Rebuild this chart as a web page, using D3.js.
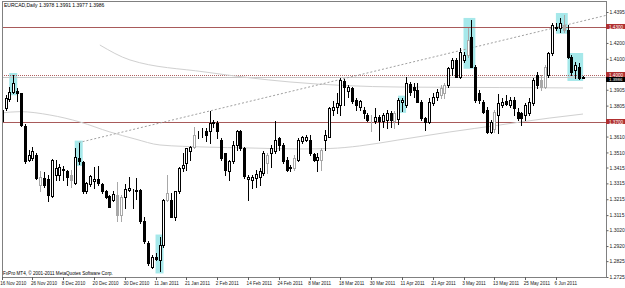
<!DOCTYPE html>
<html><head><meta charset="utf-8">
<script src="https://cdn.jsdelivr.net/npm/d3@7"></script>
<style>body{margin:0;background:#fff}svg{display:block}text{font-family:"Liberation Sans",Arial,sans-serif}</style>
</head><body><svg id="c" width="625" height="288"></svg>
<script>
// ---- data (EURCAD daily) ----
const firstDate = "2010-11-16";
const opens  = [1.3711,1.3789,1.3845,1.3893,1.3900,1.3883,1.3679,1.3463,1.3474,1.3495,1.3306,1.3348,1.3343,1.3236,1.3369,1.3369,1.3400,1.3390,1.3369,1.3316,1.3478,1.3450,1.3264,1.3312,1.3333,1.3345,1.3312,1.3264,1.3236,1.3211,1.3243,1.3117,1.3228,1.3274,1.3270,1.3272,1.3274,1.3075,1.2942,1.2791,1.2848,1.2833,1.2928,1.3211,1.3211,1.3106,1.3264,1.3411,1.3442,1.3516,1.3547,1.3621,1.3631,1.3642,1.3642,1.3702,1.3694,1.3589,1.3505,1.3390,1.3453,1.3558,1.3642,1.3537,1.3343,1.3337,1.3348,1.3358,1.3379,1.3442,1.3505,1.3516,1.3600,1.3558,1.3463,1.3411,1.3411,1.3463,1.3579,1.3589,1.3589,1.3501,1.3463,1.3463,1.3589,1.3610,1.3778,1.3799,1.3810,1.3963,1.3900,1.3915,1.3841,1.3799,1.3778,1.3747,1.3726,1.3705,1.3732,1.3705,1.3715,1.3757,1.3705,1.3720,1.3830,1.3809,1.3939,1.3924,1.3903,1.3830,1.3725,1.3704,1.3819,1.3861,1.3872,1.3882,1.3935,1.4040,1.4092,1.3988,1.4092,1.4124,1.4239,1.4050,1.3882,1.3830,1.3778,1.3641,1.3658,1.3746,1.3809,1.3834,1.3809,1.3840,1.3767,1.3757,1.3746,1.3757,1.3819,1.3998,1.3966,1.3924,1.3998,1.4134,1.4302,1.4292,1.4313,1.4281,1.4113,1.4030,1.4050,1.3978];
const highs  = [1.3799,1.3873,1.3925,1.3998,1.3915,1.3887,1.3690,1.3526,1.3547,1.3505,1.3390,1.3385,1.3369,1.3469,1.3463,1.3438,1.3425,1.3400,1.3400,1.3537,1.3572,1.3453,1.3326,1.3369,1.3421,1.3425,1.3316,1.3274,1.3243,1.3264,1.3326,1.3243,1.3312,1.3358,1.3278,1.3348,1.3278,1.3106,1.2949,1.2865,1.2875,1.2980,1.3215,1.3369,1.3253,1.3268,1.3421,1.3505,1.3537,1.3551,1.3673,1.3642,1.3663,1.3663,1.3768,1.3715,1.3705,1.3600,1.3505,1.3463,1.3579,1.3652,1.3652,1.3543,1.3369,1.3369,1.3400,1.3411,1.3516,1.3505,1.3558,1.3705,1.3610,1.3568,1.3484,1.3431,1.3495,1.3600,1.3614,1.3621,1.3621,1.3505,1.3505,1.3537,1.3652,1.3799,1.3831,1.3883,1.3978,1.3971,1.3936,1.3921,1.3852,1.3841,1.3799,1.3757,1.3747,1.3789,1.3747,1.3757,1.3778,1.3768,1.3768,1.3855,1.3855,1.3988,1.3956,1.3945,1.3945,1.3840,1.3736,1.3851,1.3882,1.3910,1.3935,1.3945,1.4050,1.4103,1.4103,1.4166,1.4145,1.4292,1.4345,1.4061,1.3903,1.3840,1.3799,1.3715,1.3778,1.3876,1.3851,1.3872,1.3861,1.3861,1.3788,1.3767,1.3819,1.3851,1.3977,1.4019,1.3998,1.4061,1.4145,1.4323,1.4323,1.4355,1.4376,1.4313,1.4124,1.4082,1.4072,1.3991];
const lows   = [1.3698,1.3778,1.3831,1.3883,1.3837,1.3679,1.3446,1.3453,1.3463,1.3343,1.3270,1.3295,1.3201,1.3232,1.3337,1.3337,1.3337,1.3306,1.3295,1.3312,1.3438,1.3253,1.3253,1.3299,1.3285,1.3306,1.3253,1.3222,1.3165,1.3201,1.3081,1.3081,1.3159,1.3264,1.3159,1.3215,1.3064,1.2938,1.2802,1.2781,1.2829,1.2760,1.2917,1.3201,1.3102,1.3085,1.3253,1.3390,1.3400,1.3463,1.3537,1.3600,1.3610,1.3579,1.3568,1.3673,1.3600,1.3463,1.3369,1.3337,1.3442,1.3526,1.3526,1.3348,1.3211,1.3285,1.3295,1.3306,1.3369,1.3379,1.3421,1.3505,1.3526,1.3442,1.3390,1.3390,1.3400,1.3453,1.3568,1.3579,1.3495,1.3453,1.3390,1.3400,1.3526,1.3606,1.3747,1.3757,1.3747,1.3810,1.3862,1.3820,1.3778,1.3778,1.3726,1.3705,1.3642,1.3694,1.3589,1.3673,1.3663,1.3673,1.3663,1.3690,1.3772,1.3799,1.3872,1.3861,1.3830,1.3715,1.3652,1.3694,1.3809,1.3840,1.3851,1.3851,1.3924,1.3998,1.3988,1.3981,1.4082,1.4113,1.4050,1.3830,1.3819,1.3757,1.3631,1.3631,1.3641,1.3631,1.3799,1.3809,1.3799,1.3746,1.3715,1.3683,1.3715,1.3746,1.3809,1.3914,1.3903,1.3914,1.3988,1.4124,1.4281,1.4271,1.4271,1.4103,1.3998,1.3977,1.3973,1.3977];
const closes = [1.3778,1.3852,1.3893,1.3946,1.3883,1.3684,1.3453,1.3495,1.3516,1.3348,1.3354,1.3306,1.3243,1.3463,1.3411,1.3417,1.3408,1.3358,1.3337,1.3480,1.3453,1.3264,1.3316,1.3364,1.3345,1.3316,1.3268,1.3232,1.3169,1.3249,1.3117,1.3228,1.3278,1.3285,1.3268,1.3270,1.3075,1.2949,1.2812,1.2854,1.2839,1.2928,1.3211,1.3253,1.3106,1.3264,1.3411,1.3431,1.3537,1.3543,1.3621,1.3623,1.3633,1.3621,1.3698,1.3694,1.3642,1.3474,1.3400,1.3453,1.3558,1.3642,1.3537,1.3362,1.3358,1.3358,1.3375,1.3390,1.3505,1.3495,1.3537,1.3589,1.3558,1.3453,1.3400,1.3421,1.3474,1.3589,1.3606,1.3610,1.3505,1.3463,1.3484,1.3526,1.3621,1.3789,1.3799,1.3820,1.3967,1.3925,1.3921,1.3831,1.3810,1.3831,1.3757,1.3715,1.3724,1.3736,1.3705,1.3747,1.3757,1.3715,1.3757,1.3840,1.3838,1.3945,1.3893,1.3903,1.3830,1.3725,1.3700,1.3830,1.3861,1.3893,1.3914,1.3935,1.4040,1.4092,1.3988,1.4145,1.4124,1.4219,1.4050,1.3840,1.3840,1.3767,1.3641,1.3704,1.3767,1.3819,1.3830,1.3813,1.3840,1.3788,1.3725,1.3725,1.3809,1.3830,1.3966,1.3935,1.3924,1.4050,1.4134,1.4313,1.4292,1.4323,1.4281,1.4113,1.4019,1.4061,1.3977,1.3986];
const greyBars = [10,18,30,31,43,50,69,76,83,96,102,114,115,121,128,140,141,146];
const patternBars = [[3,3],[20,20],[41,41],[104,104],[121,122],[145,146],[148,150]];
const solidLevels = [1.4300, 1.3700];
const dottedLevel = 1.4000;
const bidPrice = 1.3986;
const trendIdx = [20, 88];
const trendPrice = [1.3572, 1.3970];
const maUpperIdx = [25.5, 33.3, 52.8, 74.9, 103.5, 129.4, 151];
const maUpperVal = [1.4187, 1.4093, 1.4017, 1.3954, 1.3922, 1.3919, 1.3916];
const maLowerIdx = [0, 4.75, 12.5, 20.3, 28.1, 34.6, 41.1, 52.8, 64.5, 77.5, 85.3, 93, 102.9, 116.4, 129.4, 142.4, 151];
const maLowerVal = [1.3759,1.3767,1.3746,1.3702,1.3639,1.3595,1.3557,1.3544,1.3538,1.3532,1.3535,1.3551,1.3588,1.3639,1.3683,1.3727,1.3752];
const priceTicks = [1.4395,1.4200,1.4100,1.3905,1.3805,1.3610,1.3510,1.3415,1.3315,1.3215,1.3115,1.3020,1.2920,1.2825,1.2725];
const markedPrices = [1.4300, 1.4000, 1.3700];
const dateTicks = ["16 Nov 2010","26 Nov 2010","8 Dec 2010","20 Dec 2010","30 Dec 2010","11 Jan 2011","21 Jan 2011","2 Feb 2011","14 Feb 2011","24 Feb 2011","8 Mar 2011","18 Mar 2011","30 Mar 2011","11 Apr 2011","21 Apr 2011","3 May 2011","13 May 2011","25 May 2011","6 Jun 2011"];
const titleText = "EURCAD,Daily  1.3978 1.3991 1.3977 1.3986";
const copyText = "FxPro MT4, \u00a9 2001-2011 MetaQuotes Software Corp.";

// ---- build ----
const bars = opens.map((o,i)=>({i,o,h:highs[i],l:lows[i],c:closes[i],grey:greyBars.includes(i)}));
const dates=[]; {let d=new Date(firstDate+"T00:00:00Z"); while(dates.length<bars.length+20){const w=d.getUTCDay(); if(w>0&&w<6) dates.push(new Date(d)); d.setUTCDate(d.getUTCDate()+1);} }
const fmt = d3.utcFormat("%-d %b %Y");

const L=2, R=606, T=1, B=277;
const x = d3.scaleLinear().domain([0,157]).range([1.7, 606.1]);
const y = d3.scaleLinear().domain([1.2725,1.4395]).range([277,12]);
const svg = d3.select("#c");

const plot = svg.append("g");
svg.append("defs").append("clipPath").attr("id","clip").append("rect").attr("x",L).attr("y",T).attr("width",R-L).attr("height",B-T);
plot.attr("clip-path","url(#clip)");

// pattern highlight boxes
plot.selectAll("rect.pat").data(patternBars).join("rect")
  .attr("x",d=>x(d[0])-4).attr("width",d=>x(d[1])-x(d[0])+8)
  .attr("y",d=>y(d3.max(bars.slice(d[0],d[1]+1),b=>b.h))-2)
  .attr("height",d=>y(d3.min(bars.slice(d[0],d[1]+1),b=>b.l))-y(d3.max(bars.slice(d[0],d[1]+1),b=>b.h))+4)
  .attr("fill","#a6e8ea");

// level lines
plot.selectAll("line.lvl").data(solidLevels).join("line")
  .attr("x1",L).attr("x2",R).attr("y1",d=>Math.round(y(d))+0.5).attr("y2",d=>Math.round(y(d))+0.5)
  .attr("stroke","#a85a5a").attr("stroke-width",1);
plot.append("line").attr("x1",L).attr("x2",R).attr("y1",Math.round(y(dottedLevel))+0.5).attr("y2",Math.round(y(dottedLevel))+0.5)
  .attr("stroke","#b06060").attr("stroke-dasharray","1,1");
plot.append("line").attr("x1",L).attr("x2",R).attr("y1",Math.round(y(bidPrice))+0.5).attr("y2",Math.round(y(bidPrice))+0.5)
  .attr("stroke","#c4c4c4");

// moving averages
const mline = d3.line().x(d=>x(d[0])).y(d=>y(d[1])).curve(d3.curveMonotoneX);
plot.append("path").attr("d",mline(maUpperIdx.map((v,k)=>[v,maUpperVal[k]]))).attr("fill","none").attr("stroke","#d0d0d0");
plot.append("path").attr("d",mline(maLowerIdx.map((v,k)=>[v,maLowerVal[k]]))).attr("fill","none").attr("stroke","#d0d0d0");

// trend line (extended)
const slope=(trendPrice[1]-trendPrice[0])/(trendIdx[1]-trendIdx[0]);
plot.append("line").attr("x1",x(trendIdx[0])).attr("y1",y(trendPrice[0]))
  .attr("x2",x(157)).attr("y2",y(trendPrice[0]+slope*(157-trendIdx[0])))
  .attr("stroke","#a0a0a0").attr("stroke-dasharray","2,2");

// candles
const cg = plot.append("g");
bars.forEach(b=>{
  const cx=Math.round(x(b.i));
  const col=b.grey?"#a8a8a8":"#000";
  cg.append("line").attr("x1",cx+0.5).attr("x2",cx+0.5).attr("y1",Math.round(y(b.h))).attr("y2",Math.round(y(b.l))+1).attr("stroke",col);
  const top=Math.round(y(Math.max(b.o,b.c))), bot=Math.round(y(Math.min(b.o,b.c)));
  const up=b.c>=b.o;
  cg.append("rect").attr("x",cx-0.5).attr("width",2).attr("y",top+0.5).attr("height",Math.max(bot-top,0))
    .attr("fill",up?"#fff":col).attr("stroke",col);
});

// frame
svg.append("line").attr("x1",L+0.5).attr("x2",L+0.5).attr("y1",T).attr("y2",B).attr("stroke","#808080");
svg.append("line").attr("x1",L).attr("x2",R).attr("y1",T+0.5).attr("y2",T+0.5).attr("stroke","#808080");

// right axis
const ya = svg.append("g").attr("transform",`translate(${R+0.5},0)`)
  .call(d3.axisRight(y).tickValues(priceTicks).tickSize(2).tickPadding(1).tickFormat(d3.format(".4f")));
ya.select(".domain").attr("stroke","#808080").attr("d",`M0,${T}V${B+1}`);
ya.selectAll(".tick line").attr("stroke","#606060");
ya.selectAll("text").attr("font-size",5).attr("fill","#202020");
// marked price labels
markedPrices.forEach(p=>{
  const g=svg.append("g").attr("transform",`translate(${R},${Math.round(y(p))})`);
  g.append("rect").attr("x",0).attr("y",-3).attr("width",19).attr("height",5).attr("fill","#b03030");
  g.append("text").attr("x",3).attr("y",1.6).attr("font-size",4.6).attr("fill","#fff").text(d3.format(".4f")(p));
});
{const g=svg.append("g").attr("transform",`translate(${R},${Math.round(y(dottedLevel))+2})`);
  g.append("rect").attr("x",0).attr("y",0).attr("width",19).attr("height",5).attr("fill","#000");
  g.append("text").attr("x",3).attr("y",4.4).attr("font-size",4.4).attr("fill","#fff").text(d3.format(".4f")(bidPrice));}

// bottom axis
svg.append("line").attr("x1",L).attr("x2",R+1).attr("y1",B+0.5).attr("y2",B+0.5).attr("stroke","#808080");
const tickIdx = dateTicks.map(s=>dates.findIndex(d=>fmt(d)===s));
const xg = svg.append("g");
tickIdx.forEach((ti,k)=>{
  const px=Math.round(x(ti))+0.5;
  xg.append("line").attr("x1",px).attr("x2",px).attr("y1",B).attr("y2",B+3).attr("stroke","#606060");
  xg.append("text").attr("x",x(ti)-1.5).attr("y",285).attr("font-size",4.6).attr("fill","#202020").text(dateTicks[k]);
});

svg.append("text").attr("x",4).attr("y",7).attr("font-size",5).attr("fill","#000").text(titleText);
svg.append("text").attr("x",3).attr("y",275).attr("font-size",4.6).attr("fill","#000").text(copyText);
</script></body></html>
